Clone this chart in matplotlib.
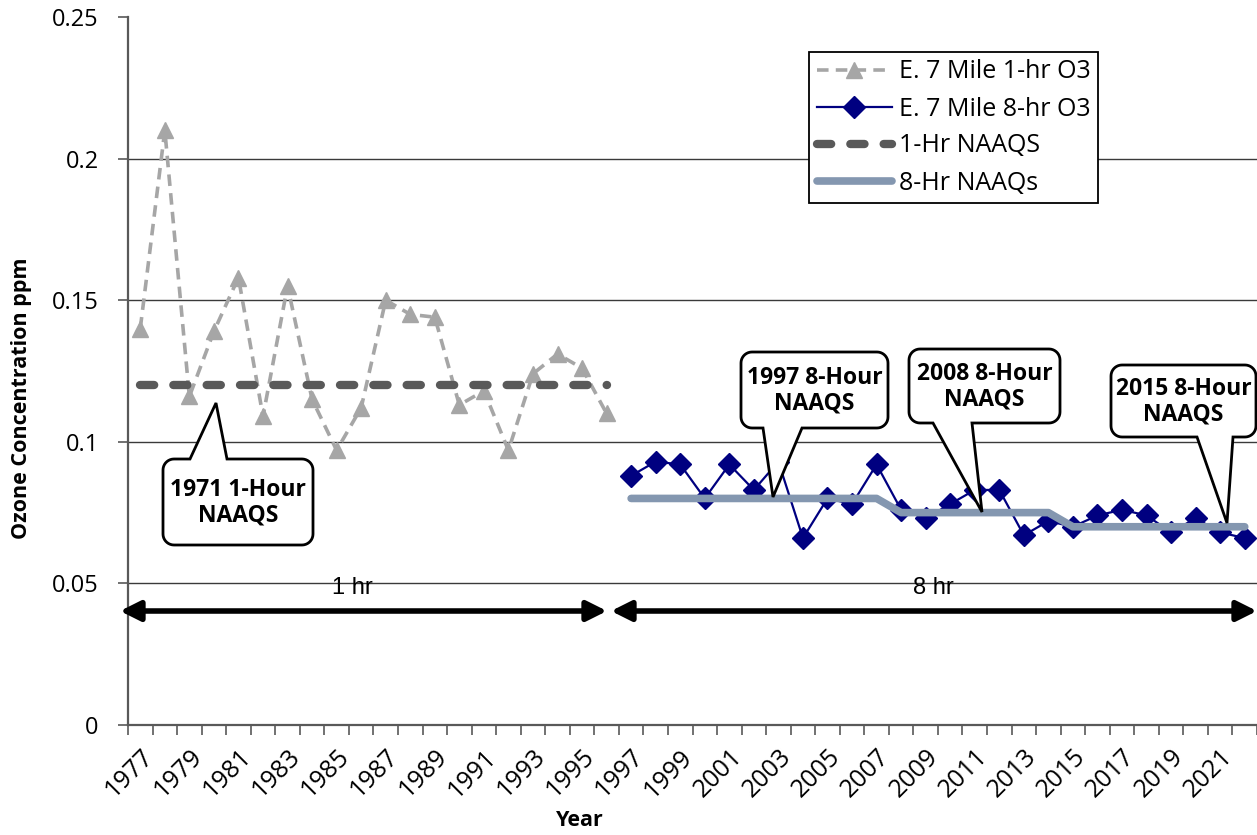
import numpy as np
import matplotlib
matplotlib.use("Agg")
import matplotlib.pyplot as plt
from matplotlib.patches import Polygon, FancyArrowPatch
from matplotlib.lines import Line2D

# ---------------- data ----------------
years = list(range(1977, 2023))
years_1hr = list(range(1977, 1997))
o3_1hr = [0.140, 0.210, 0.116, 0.139, 0.158, 0.109, 0.155, 0.115, 0.097, 0.112,
          0.150, 0.145, 0.144, 0.113, 0.118, 0.097, 0.124, 0.131, 0.126, 0.110]
naaqs_1hr = [0.12] * len(years_1hr)

years_8hr = list(range(1997, 2023))
o3_8hr = [0.088, 0.093, 0.092, 0.080, 0.092, 0.083, 0.093, 0.066, 0.080, 0.078,
          0.092, 0.076, 0.073, 0.078, 0.083, 0.083, 0.067, 0.072, 0.070, 0.074,
          0.076, 0.074, 0.068, 0.073, 0.068, 0.066]
naaqs_8hr = [0.080] * 11 + [0.075] * 7 + [0.070] * 8

tick_years = years[::2]
yticks = [0, 0.05, 0.1, 0.15, 0.2, 0.25]
ytick_labels = ["0", "0.05", "0.1", "0.15", "0.2", "0.25"]

legend_labels = ["E. 7 Mile 1-hr O3", "E. 7 Mile 8-hr O3", "1-Hr NAAQS", "8-Hr NAAQs"]
callouts = [
    ("1971 1-Hour\nNAAQS", (163, 459, 313, 545), (190, 227), (216, 403)),
    ("1997 8-Hour\nNAAQS", (741, 352, 888, 428), (763, 802), (773, 497)),
    ("2008 8-Hour\nNAAQS", (909, 349, 1060, 423), (933, 972), (982, 512)),
    ("2015 8-Hour\nNAAQS", (1111, 365, 1256, 437), (1197, 1233), (1227, 523)),
]

# ---------------- figure ----------------
W, H = 1257, 835
plt.rcParams["font.family"] = ["Open Sans", "DejaVu Sans"]
fig = plt.figure(figsize=(W / 100, H / 100), dpi=100)
ax = fig.add_axes([128 / W, (H - 725) / H, (W - 128) / W, (725 - 17) / H])


def px(x, y):
    return (x / W, (H - y) / H)


xi = lambda yrs: [y - years[0] for y in yrs]

ax.set_xlim(-0.5, len(years) - 0.5)
ax.set_ylim(0, 0.25)

# gridlines
for v in yticks[1:-1]:
    ax.axhline(v, color="#3a3a3a", lw=1.0, zorder=1)

l1, = ax.plot(xi(years_1hr), o3_1hr, color="#A6A6A6", lw=2.6, ls=(0, (3.2, 2.0)),
              marker="^", ms=12, mec="#A6A6A6", mfc="#A6A6A6", zorder=3)
l3, = ax.plot(xi(years_1hr), naaqs_1hr, color="#595959", lw=6, ls=(0, (1.7, 2.3)),
              dash_capstyle="round", zorder=4)
l2, = ax.plot(xi(years_8hr), o3_8hr, color="#000080", lw=1.6, marker="D", ms=11,
              mec="#000080", mfc="#000080", zorder=3)
l4, = ax.plot(xi(years_8hr), naaqs_8hr, color="#8497B0", lw=5.5,
              solid_capstyle="round", solid_joinstyle="round", zorder=4)

# axes styling
for s in ["top", "right"]:
    ax.spines[s].set_visible(False)
for s in ["left", "bottom"]:
    ax.spines[s].set_color("#595959")
    ax.spines[s].set_linewidth(1.6)

ax.set_yticks(yticks)
ax.set_yticklabels(ytick_labels)
ax.tick_params(axis="y", length=7, width=1.2, color="#595959", pad=14, labelsize=17)

ax.set_xticks(xi(tick_years))
ax.set_xticklabels([str(y) for y in tick_years], rotation=45, ha="right",
                   rotation_mode="anchor")
ax.tick_params(axis="x", which="major", length=0, pad=14, labelsize=18)
ax.set_xticks(np.arange(-0.5, len(years), 1.0), minor=True)
ax.tick_params(axis="x", which="minor", length=7, width=1.2, color="#595959")

# axis titles
fig.text(22 / W, (H - 398) / H, "Ozone Concentration ppm", rotation=90,
         ha="center", va="center", fontsize=15.5, fontweight="bold")
fig.text(580 / W, (H - 821) / H, "Year", ha="center", va="center",
         fontsize=15.5, fontweight="bold")

# legend
lh3 = Line2D([], [], color="#595959", lw=6, ls=(0, (1.7, 2.3)), dash_capstyle="round")
leg = fig.legend([l1, l2, lh3, l4], legend_labels, loc="upper left",
                 bbox_to_anchor=px(809, 52), borderaxespad=0, fontsize=18,
                 frameon=True, fancybox=False, edgecolor="black", framealpha=1,
                 handlelength=3.0, handletextpad=0.3, labelspacing=0.48,
                 borderpad=0.3)
leg.get_frame().set_linewidth(1.3)
leg.set_zorder(10)


# callouts
def callout(text, box, base, tip, r=11):
    x0, y0, x1, y1 = box
    pts = []

    def arc(cx, cy, a0, a1):
        for a in np.linspace(np.radians(a0), np.radians(a1), 10):
            pts.append((cx + r * np.cos(a), cy + r * np.sin(a)))

    up = tip[1] < y0
    # pixel coordinates with y downward; clockwise on screen
    arc(x0 + r, y0 + r, 180, 270)          # top-left
    if up:
        pts.extend([(base[0], y0), tip, (base[1], y0)])
    arc(x1 - r, y0 + r, 270, 360)          # top-right
    arc(x1 - r, y1 - r, 0, 90)             # bottom-right
    if not up:
        pts.extend([(base[1], y1), tip, (base[0], y1)])
    arc(x0 + r, y1 - r, 90, 180)           # bottom-left
    poly = Polygon([px(*p) for p in pts], closed=True, transform=fig.transFigure,
                   fc="white", ec="black", lw=2.0, zorder=8, joinstyle="miter")
    fig.add_artist(poly)
    fig.text(*px((x0 + x1) / 2, (y0 + y1) / 2 + 1), text, ha="center", va="center",
             fontsize=16.5, fontweight="bold", linespacing=1.1, zorder=9)


for t, b, bs, tp in callouts:
    callout(t, b, bs, tp)

# period arrows
for (xa, xb, lab, xl) in [(120, 607, "1 hr", 352), (611, 1257, "8 hr", 933)]:
    arr = FancyArrowPatch(px(xa, 611), px(xb, 611), transform=fig.transFigure,
                          arrowstyle="<|-|>,head_length=12,head_width=6",
                          mutation_scale=1, lw=4, color="black", zorder=6,
                          shrinkA=0, shrinkB=0)
    fig.add_artist(arr)
    fig.text(*px(xl, 588), lab, ha="center", va="center", fontsize=17,
             family=["Liberation Sans", "DejaVu Sans"], zorder=7)

fig.savefig("out.png", dpi=100)
